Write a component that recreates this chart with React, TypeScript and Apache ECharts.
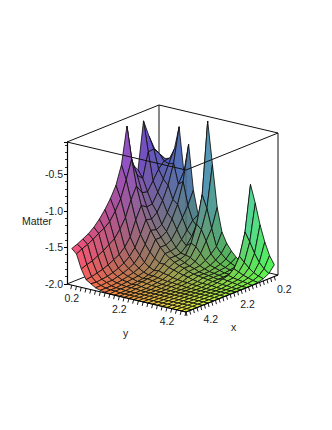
import React, { useEffect, useRef } from "react";
import * as echarts from "echarts";

const FLOOR = -2;
const TOP = -0.06;
const xGrid = [0.2,0.5,0.8,1.1,1.4,1.7,2.0,2.3,2.6,2.9,3.2,3.5,3.8,4.1,4.4,4.7,5.0];
const yGrid = [0.2,0.4,0.6,0.8,1.0,1.2,1.4,1.6,1.8,2.0,2.2,2.4,2.6,2.8,3.0,3.2,3.4,3.6,3.8,4.0,4.2,4.4,4.6,4.8,5.0];
const tickValues = [0.2,0.4,0.6,0.8,1.0,1.2,1.4,1.6,1.8,2.0,2.2,2.4,2.6,2.8,3.0,3.2,3.4,3.6,3.8,4.0,4.2,4.4,4.6,4.8,5.0];
const zTickLabelStep = 0.5;
const xTickLabels = ["0.2", "2.2", "4.2"];
const yTickLabels = ["0.2", "2.2", "4.2"];

// Height of "Matter" above the floor: one row per y, one column per x.
const y02 = [1.26,1.41,1.61,1.85,1.21,1.32,1.87,1.37,1.12,.97,.85,.75,.67,.61,.57,.53,.50];
const y04 = [1.26,1.36,1.45,1.44,1.11,1.18,1.43,1.18,.95,.81,.70,.64,.60,.55,.51,.48,.44];
const y06 = [1.28,1.27,1.19,1.06,.94,.96,1.08,.92,.71,.58,.48,.43,.38,.34,.30,.28,.25];
const y08 = [1.42,1.25,1.07,.92,.79,.78,.83,.66,.46,.35,.28,.24,.20,.17,.15,.13,.12];
const y10 = [1.74,1.27,1.0,.82,.69,.63,.65,.48,.33,.24,.18,.14,.11,.09,.08,.07,.08];
const y12 = [1.14,1.0,.82,.67,.54,.50,.52,.36,.24,.16,.12,.09,.07,.05,.05,.04,.04];
const y14 = [1.53,1.05,.77,.60,.46,.41,.41,.27,.16,.11,.08,.06,.04,.03,.02,.02,.02];
const y16 = [.92,.74,.60,.47,.36,.32,.32,.20,.11,.07,.05,.04,.03,.02,.01,.01,.01];
const y18 = [.60,.55,.45,.35,.27,.25,.25,.15,.08,.05,.03,.02,.01,.01,.01,.01,0];
const y20 = [.50,.48,.38,.28,.21,.20,.20,.15,.09,.05,.04,.03,.02,.01,0,0,0];
const y22 = [1.91,.93,.56,.33,.20,.17,.16,.12,.07,.04,.03,.02,.01,.01,0,0,0];
const y24 = [1.33,.76,.50,.30,.18,.14,.13,.10,.06,.03,.02,.01,0,0,0,0,0];
const y26 = [.76,.50,.36,.22,.14,.11,.11,.08,.04,.02,.01,.01,0,0,0,0,0];
const y28 = [.44,.27,.20,.14,.10,.09,.08,.06,.03,.02,.01,0,0,0,0,0,0];
const y30 = [.30,.19,.13,.09,.07,.06,.06,.05,.02,.01,.01,0,0,0,0,0,0];
const y32 = [.21,.13,.09,.07,.05,.05,.05,.03,.02,.01,0,0,0,0,0,0,0];
const y34 = [.14,.09,.06,.05,.04,.04,.04,.02,.01,0,0,0,0,0,0,0,0];
const y36 = [.09,.06,.04,.03,.03,.03,.03,.01,.01,0,0,0,0,0,0,0,0];
const y38 = [.05,.04,.03,.03,.02,.02,.02,.01,0,0,0,0,0,0,0,0,0];
const y40 = [1.18,.56,.26,.12,.06,.04,.02,.01,0,0,0,0,0,0,0,0,0];
const y42 = [.94,.44,.19,.09,.04,.03,.01,0,0,0,0,0,0,0,0,0,0];
const y44 = [.66,.30,.13,.06,.03,.02,.01,0,0,0,0,0,0,0,0,0,0];
const y46 = [.44,.19,.08,.04,.02,.01,0,0,0,0,0,0,0,0,0,0,0];
const y48 = [.27,.12,.05,.02,.01,0,0,0,0,0,0,0,0,0,0,0,0];
const y50 = [.16,.07,.03,.01,0,0,0,0,0,0,0,0,0,0,0,0,0];
const rows = [y02,y04,y06,y08,y10,y12,y14,y16,y18,y20,y22,y24,y26,y28,y30,y32,y34,y36,y38,y40,y42,y44,y46,y48,y50];

const AXIS_MAX = 5;
const project = (api: any, x: number, y: number, z: number) => {
  const sx = 92 - 18.4 * x + 23.8 * y;
  const dy = -37 + 7.4 * x + 5.6 * y;
  const p = api.coord([sx, z]);
  return [p[0], p[1] + dy];
};
const shade = (t: number) => Math.round(255 * (0.28 + 0.68 * t));
const shadeBlue = (t: number) => Math.round(255 * (0.26 + 0.64 * Math.pow(t, 0.75)));

const quadData: number[][] = [];
for (let i = 0; i < xGrid.length - 1; i++) {
  for (let j = 0; j < yGrid.length - 1; j++) quadData.push([i, j]);
}
const tickData = tickValues.map((v) => [v]);

const boxSeg = (api: any, a: number[], b: number[], stroke: string, w: number, op = 1) => {
  const p = project(api, a[0], a[1], a[2]);
  const q = project(api, b[0], b[1], b[2]);
  return {
    type: "line",
    shape: { x1: p[0], y1: p[1], x2: q[0], y2: q[1] },
    style: { stroke, lineWidth: w, opacity: op },
  };
};

export default function App() {
  const ref = useRef<HTMLDivElement>(null);
  useEffect(() => {
    const chart = echarts.init(ref.current!, undefined, { renderer: "svg" });
    const fontFamily = "'Liberation Sans', Arial, sans-serif";
    chart.setOption({
      animation: false,
      backgroundColor: "#fff",
      textStyle: { fontFamily },
      grid: { left: 67, width: 211, top: 142, height: 142 },
      xAxis: { type: "value", min: 0, max: 211, show: false },
      yAxis: {
        type: "value",
        min: FLOOR,
        max: TOP,
        interval: zTickLabelStep,
        splitLine: { show: false },
        axisLine: { show: true, lineStyle: { color: "#000", width: 1.2 } },
        axisTick: { show: true, length: 3, lineStyle: { color: "#000", width: 1 } },
        minorTick: { show: true, splitNumber: 5, length: 2, lineStyle: { color: "#000", width: 0.8 } },
        axisLabel: {
          color: "#222",
          fontSize: 10.5,
          fontFamily,
          margin: 4,
          showMaxLabel: false,
          formatter: (v: number) => v.toFixed(1),
        },
      },
      graphic: [
        { type: "text", x: 22, y: 215, silent: true, style: { text: "Matter", fontSize: 10.5, fontFamily, fill: "#222" } },
        { type: "text", x: 123, y: 327, silent: true, style: { text: "y", fontSize: 10.5, fontFamily, fill: "#222" } },
        { type: "text", x: 231, y: 321, silent: true, style: { text: "x", fontSize: 10.5, fontFamily, fill: "#222" } },
      ],
      series: [
        {
          type: "custom",
          silent: true,
          z: 1,
          data: [[0]],
          renderItem: (_p: any, api: any) => ({
            type: "group",
            children: [
              boxSeg(api, [0, 0, FLOOR], [0, 0, TOP], "#555", 1.4),
              boxSeg(api, [5, 0, TOP], [0, 0, TOP], "#111", 1),
              boxSeg(api, [0, 0, TOP], [0, 5, TOP], "#111", 1),
              boxSeg(api, [5, 0, FLOOR], [0, 0, FLOOR], "#111", 1),
              boxSeg(api, [0, 0, FLOOR], [0, 5, FLOOR], "#111", 1),
            ],
          }),
        },
        {
          type: "custom",
          silent: true,
          z: 2,
          data: quadData,
          renderItem: (_p: any, api: any) => {
            const i = api.value(0);
            const j = api.value(1);
            const corners = [[i, j], [i + 1, j], [i + 1, j + 1], [i, j + 1]];
            let sx = 0, sy = 0, sz = 0;
            const points = corners.map(([a, b]) => {
              const x = xGrid[a];
              const y = yGrid[b];
              const z = FLOOR + rows[b][a];
              sx += x; sy += y; sz += z;
              return project(api, x, y, z);
            });
            const r = shade(sx / 4 / AXIS_MAX);
            const g = shade(sy / 4 / AXIS_MAX);
            const b = shadeBlue((sz / 4 - FLOOR) / 2);
            return {
              type: "polygon",
              shape: { points },
              style: { fill: `rgb(${r},${g},${b})`, stroke: "#111", lineWidth: 0.85 },
            };
          },
        },
        {
          type: "custom",
          silent: true,
          z: 3,
          data: [[0]],
          renderItem: (_p: any, api: any) => ({
            type: "group",
            children: [
              boxSeg(api, [5, 0, TOP], [5, 5, TOP], "#111", 1),
              boxSeg(api, [5, 5, TOP], [0, 5, TOP], "#111", 1),
              boxSeg(api, [0, 5, TOP], [0, 5, FLOOR], "#111", 1),
              boxSeg(api, [5, 5, TOP], [5, 5, FLOOR], "#000", 1, 0.2),
              boxSeg(api, [5, 0, FLOOR], [5, 5, FLOOR], "#000", 1.2),
              boxSeg(api, [5, 5, FLOOR], [0, 5, FLOOR], "#000", 1.2),
            ],
          }),
        },
        {
          type: "custom",
          silent: true,
          z: 4,
          data: tickData,
          renderItem: (_p: any, api: any) => {
            const v = api.value(0);
            const a = project(api, 5, v, FLOOR);
            const b = project(api, v, 5, FLOOR);
            const children: any[] = [
              { type: "line", shape: { x1: a[0], y1: a[1], x2: a[0] - 1, y2: a[1] + 4 }, style: { stroke: "#000", lineWidth: 0.9 } },
              { type: "line", shape: { x1: b[0], y1: b[1], x2: b[0] + 1, y2: b[1] + 4 }, style: { stroke: "#000", lineWidth: 0.9 } },
            ];
            const yl = yTickLabels.indexOf(v.toFixed(1));
            if (yl >= 0) {
              children.push({ type: "text", x: a[0], y: a[1] + 13, style: { text: yTickLabels[yl], fontSize: 10.5, fontFamily, fill: "#222", textAlign: "center", textVerticalAlign: "middle" } });
            }
            const xl = xTickLabels.indexOf(v.toFixed(1));
            if (xl >= 0) {
              children.push({ type: "text", x: b[0] + 10, y: b[1] + 13, style: { text: xTickLabels[xl], fontSize: 10.5, fontFamily, fill: "#222", textAlign: "center", textVerticalAlign: "middle" } });
            }
            return { type: "group", children };
          },
        },
      ],
    });
    return () => chart.dispose();
  }, []);
  return <div ref={ref} style={{ position: "fixed", left: 0, top: 0, width: 332, height: 430 }} />;
}
